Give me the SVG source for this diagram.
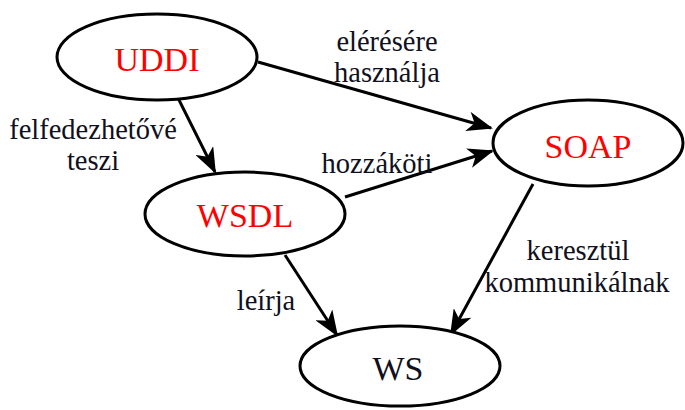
<svg xmlns="http://www.w3.org/2000/svg" width="685" height="410" viewBox="0 0 685 410">
<style>
.node{fill:#fff;stroke:#000;stroke-width:3}
.nt{font-family:'Liberation Serif','Tinos','Times New Roman','Times','Noto Serif','DejaVu Serif','FreeSerif',serif;font-size:34px;text-anchor:middle;fill:#ff0000}
.lbl{font-family:'Liberation Serif','Tinos','Times New Roman','Times','Noto Serif','DejaVu Serif','FreeSerif',serif;font-size:28.5px;text-anchor:middle;fill:#101020}
.edge{stroke:#000;stroke-width:3;fill:none;marker-end:url(#ah)}
</style>
<defs>
<marker id="ah" markerUnits="userSpaceOnUse" markerWidth="26" markerHeight="20" refX="24" refY="10" orient="auto">
<path d="M0,0 L26,10 L0,20 L7,10 z" fill="#000"/>
</marker>
</defs>
<rect width="685" height="410" fill="#fff"/>
<g id="connectors">
<line class="edge" x1="258" y1="62" x2="491" y2="128"/>
<line class="edge" x1="178" y1="98" x2="215" y2="172"/>
<line class="edge" x1="345" y1="197" x2="492" y2="151"/>
<line class="edge" x1="285" y1="255" x2="337" y2="335"/>
<line class="edge" x1="533" y1="184" x2="451" y2="334"/>
</g>
<g id="labels">
<text class="lbl" x="387" y="51">elérésére</text>
<text class="lbl" x="387" y="82">használja</text>
<text class="lbl" x="93" y="139">felfedezhetővé</text>
<text class="lbl" x="93" y="170">teszi</text>
<text class="lbl" x="377" y="173">hozzáköti</text>
<text class="lbl" x="578" y="260">keresztül</text>
<text class="lbl" x="577" y="292">kommunikálnak</text>
<text class="lbl" x="266" y="310">leírja</text>
</g>
<g id="UDDI">
<ellipse class="node" cx="157" cy="57" rx="100" ry="43"/>
<text class="nt" x="157" y="71">UDDI</text>
</g>
<g id="SOAP">
<ellipse class="node" cx="588" cy="143" rx="95" ry="43"/>
<text class="nt" x="588" y="158">SOAP</text>
</g>
<g id="WSDL">
<ellipse class="node" cx="245" cy="214" rx="100" ry="42"/>
<text class="nt" x="245" y="227">WSDL</text>
</g>
<g id="WS">
<ellipse class="node" cx="400" cy="366" rx="100" ry="40"/>
<text class="nt" x="398" y="380" style="fill:#101020">WS</text>
</g>
</svg>
